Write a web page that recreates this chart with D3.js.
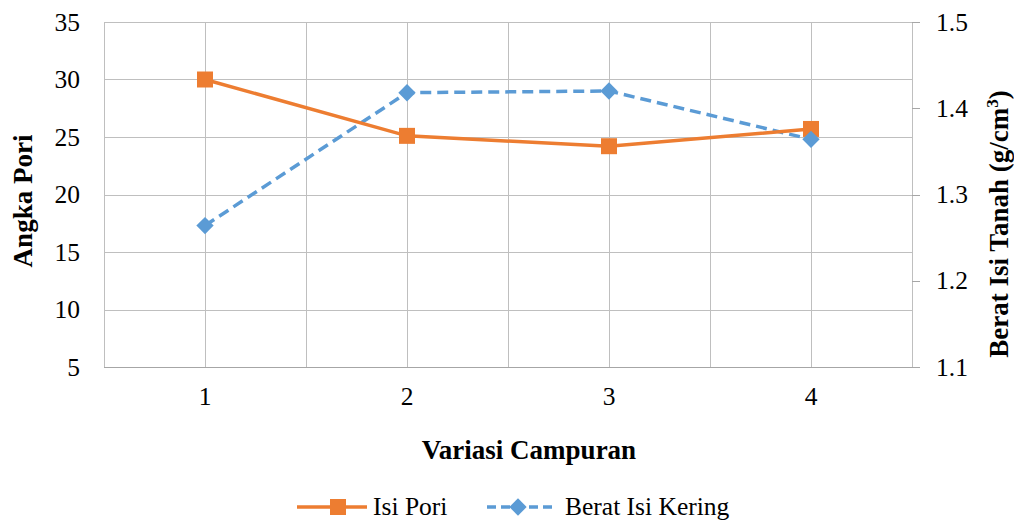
<!DOCTYPE html>
<html>
<head>
<meta charset="utf-8">
<script src="https://cdn.jsdelivr.net/npm/d3@7"></script>
</head>
<body style="margin:0; background:#fff">
<div id="chart"></div>
<script>
// chart values
var categories = ["1", "2", "3", "4"];
var isiPori = [30.0, 25.1, 24.2, 25.7];
var beratIsiKering = [1.264, 1.418, 1.420, 1.364];
var leftTicks = [5, 10, 15, 20, 25, 30, 35];
var rightTicks = [1.1, 1.2, 1.3, 1.4, 1.5];

var WIDTH = 1014, HEIGHT = 522;
var FONT = "'Liberation Serif'";
var FS = "25.5px";
var TFS = "27px";
var margin = { left: 104, right: 102, top: 22, bottom: 155 };

function drawChart(id) {
    var svg = d3.select(id).append("svg")
        .attr("width", WIDTH)
        .attr("height", HEIGHT);

    var plotW = WIDTH - margin.left - margin.right;
    var plotH = HEIGHT - margin.top - margin.bottom;

    var x = d3.scaleBand().domain(categories).range([margin.left, margin.left + plotW]);
    var yL = d3.scaleLinear().domain([5, 35]).range([margin.top + plotH, margin.top]);
    var yR = d3.scaleLinear().domain([1.1, 1.5]).range([margin.top + plotH, margin.top]);

    var grid = svg.append("g").attr("stroke", "#bfbfbf").attr("stroke-width", 1);

    // horizontal gridlines at left ticks
    grid.selectAll(".hg").data(leftTicks).enter().append("line")
        .attr("x1", margin.left).attr("x2", margin.left + plotW)
        .attr("y1", function(d) { return Math.round(yL(d)) + 0.5; })
        .attr("y2", function(d) { return Math.round(yL(d)) + 0.5; })
        .attr("stroke", function(d) { return d === 5 ? "#a6a6a6" : "#bfbfbf"; });

    // vertical gridlines at category boundaries and centres
    var vx = [];
    categories.forEach(function(c) { vx.push(x(c)); vx.push(x(c) + x.bandwidth() / 2); });
    vx.push(margin.left + plotW);
    grid.selectAll(".vg").data(vx).enter().append("line")
        .attr("x1", function(d) { return Math.round(d) + 0.5; })
        .attr("x2", function(d) { return Math.round(d) + 0.5; })
        .attr("y1", margin.top).attr("y2", margin.top + plotH);

    // right axis tick marks
    svg.append("g").selectAll("line").data(rightTicks).enter().append("line")
        .attr("x1", margin.left + plotW).attr("x2", margin.left + plotW + 8)
        .attr("y1", function(d) { return Math.round(yR(d)) + 0.5; })
        .attr("y2", function(d) { return Math.round(yR(d)) + 0.5; })
        .attr("stroke", "#a6a6a6");

    // tick labels
    svg.append("g").selectAll("text").data(leftTicks).enter().append("text")
        .attr("x", 80).attr("y", function(d) { return yL(d) + 8.5; })
        .attr("text-anchor", "end").style("font-size", FS)
        .text(function(d) { return d; });

    svg.append("g").selectAll("text").data(rightTicks).enter().append("text")
        .attr("x", 936).attr("y", function(d) { return yR(d) + 8.5; })
        .style("font-size", FS)
        .text(function(d) { return d3.format(".1f")(d); });

    svg.append("g").selectAll("text").data(categories).enter().append("text")
        .attr("x", function(d) { return x(d) + x.bandwidth() / 2; })
        .attr("y", 405).attr("text-anchor", "middle").style("font-size", FS)
        .text(function(d) { return d; });

    // axis titles
    svg.append("text")
        .attr("transform", "translate(32,201) rotate(-90)")
        .attr("text-anchor", "middle").style("font-size", TFS).style("font-weight", "bold")
        .text("Angka Pori");

    var rt = svg.append("text")
        .attr("transform", "translate(1008,224) rotate(-90)")
        .attr("text-anchor", "middle").style("font-size", TFS).style("font-weight", "bold");
    rt.append("tspan").text("Berat Isi Tanah (g/cm");
    rt.append("tspan").style("font-size", "17px").attr("dy", -10).text("3");
    rt.append("tspan").attr("dy", 10).text(")");

    svg.append("text")
        .attr("x", margin.left + plotW / 2 + 21).attr("y", 459)
        .attr("text-anchor", "middle").style("font-size", TFS).style("font-weight", "bold")
        .text("Variasi Campuran");

    var cx = function(d, i) { return x(categories[i]) + x.bandwidth() / 2; };

    // Berat Isi Kering (right axis)
    var blueLine = d3.line().x(cx).y(function(d) { return yR(d); });
    svg.append("path").datum(beratIsiKering)
        .attr("d", blueLine).attr("fill", "none")
        .attr("stroke", "#5b9bd5").attr("stroke-width", 3.5)
        .attr("stroke-dasharray", "11,6");

    // Isi Pori (left axis)
    var orangeLine = d3.line().x(cx).y(function(d) { return yL(d); });
    svg.append("path").datum(isiPori)
        .attr("d", orangeLine).attr("fill", "none")
        .attr("stroke", "#ed7d31").attr("stroke-width", 3.5);

    var sq = d3.symbol().type(d3.symbolSquare).size(256);
    var dia = d3.symbol().type(d3.symbolSquare).size(150);

    svg.append("g").selectAll("path").data(isiPori).enter().append("path")
        .attr("d", sq)
        .attr("transform", function(d, i) { return "translate(" + cx(d, i) + "," + yL(d) + ")"; })
        .attr("fill", "#ed7d31");

    svg.append("g").selectAll("path").data(beratIsiKering).enter().append("path")
        .attr("d", dia)
        .attr("transform", function(d, i) { return "translate(" + cx(d, i) + "," + yR(d) + ") rotate(45)"; })
        .attr("fill", "#5b9bd5");

    // legend
    var lg = svg.append("g");
    lg.append("line").attr("x1", 297).attr("x2", 367).attr("y1", 507).attr("y2", 507)
        .attr("stroke", "#ed7d31").attr("stroke-width", 3.5);
    lg.append("path").attr("d", sq).attr("transform", "translate(338,507)").attr("fill", "#ed7d31");
    lg.append("text").attr("x", 373).attr("y", 515).style("font-size", FS).text("Isi Pori");

    lg.append("line").attr("x1", 487).attr("x2", 557).attr("y1", 507).attr("y2", 507)
        .attr("stroke", "#5b9bd5").attr("stroke-width", 3.5).attr("stroke-dasharray", "9,5");
    lg.append("path").attr("d", dia).attr("transform", "translate(518,507) rotate(45)").attr("fill", "#5b9bd5");
    lg.append("text").attr("x", 565).attr("y", 515).style("font-size", FS).text("Berat Isi Kering");

    // serif font on every text element
    svg.selectAll("text").style("font-family", FONT).attr("fill", "#000");
}

drawChart("#chart");
</script>
</body>
</html>
